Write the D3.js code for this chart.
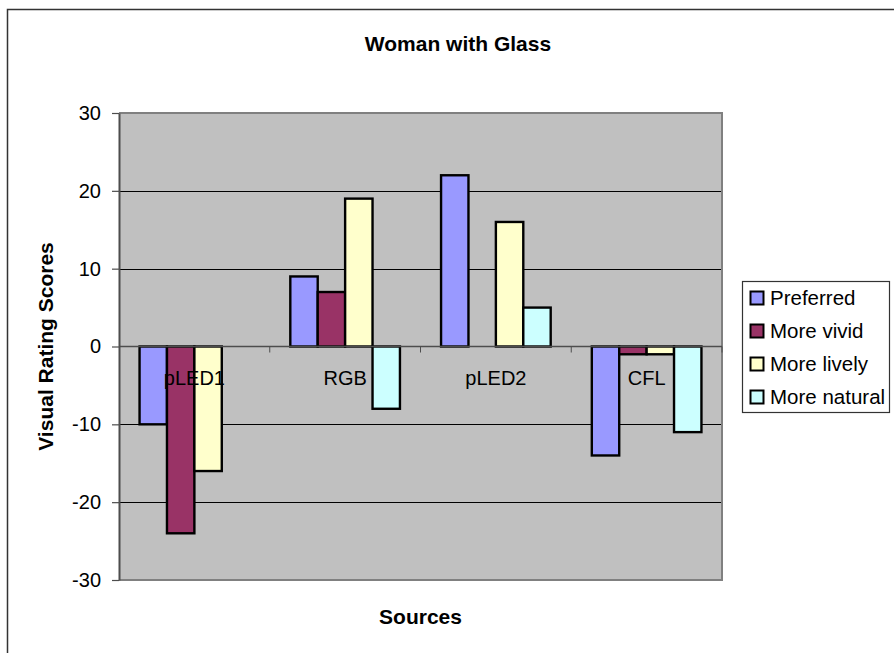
<!DOCTYPE html>
<html>
<head>
<meta charset="utf-8">
<script src="https://cdn.jsdelivr.net/npm/d3@7"></script>
<style>
  html, body { margin: 0; padding: 0; background: #ffffff; }
  svg { display: block; font-family: "Liberation Sans", Arial, sans-serif; }
</style>
</head>
<body>
<svg id="chart" width="894" height="653"></svg>
<script>
// Visual rating scores per light source
const categories = ["pLED1", "RGB", "pLED2", "CFL"];
const seriesNames = ["Preferred", "More vivid", "More lively", "More natural"];
const preferred   = [-10, 9, 22, -14];
const moreVivid   = [-24, 7, null, -1];
const moreLively  = [-16, 19, 16, -1];
const moreNatural = [null, -8, 5, -11];
const seriesColors = ["#9999FF", "#993366", "#FFFFCC", "#CCFFFF"];
const yTicks = [-30, -20, -10, 0, 10, 20, 30];

const seriesValues = [preferred, moreVivid, moreLively, moreNatural];

const svg = d3.select("#chart");

// chart frame
svg.append("rect")
  .attr("x", 7.5).attr("y", 9.5)
  .attr("width", 930).attr("height", 700)
  .attr("fill", "#ffffff")
  .attr("stroke", "#333333").attr("stroke-width", 1.5);

const plot = { left: 119, right: 722, top: 113, bottom: 580 };

const y = d3.scaleLinear().domain([-30, 30]).range([plot.bottom, plot.top]);
const x = d3.scaleBand().domain(categories).range([plot.left, plot.right]).padding(0);
const barW = x.bandwidth() / 5.5;
const xs = d3.scaleBand().domain(seriesNames)
  .range([(x.bandwidth() - 4 * barW) / 2, (x.bandwidth() + 4 * barW) / 2]).padding(0);

// plot area
svg.append("rect")
  .attr("x", plot.left).attr("y", plot.top)
  .attr("width", plot.right - plot.left).attr("height", plot.bottom - plot.top)
  .attr("fill", "#C0C0C0");

// gridlines
svg.append("g")
  .selectAll("line")
  .data(yTicks.filter(t => t !== 0 && t !== 30 && t !== -30))
  .join("line")
  .attr("x1", plot.left).attr("x2", plot.right)
  .attr("y1", d => Math.round(y(d)) + 0.5).attr("y2", d => Math.round(y(d)) + 0.5)
  .attr("stroke", "#000000").attr("stroke-width", 1);

// plot border
svg.append("path")
  .attr("d", `M${plot.left},${plot.top}H${plot.right}V${plot.bottom}H${plot.left}`)
  .attr("fill", "none").attr("stroke", "#808080").attr("stroke-width", 2);

// y axis
const yAxis = d3.axisLeft(y).tickValues(yTicks).tickFormat(d => String(d))
  .tickSize(7).tickPadding(11).tickSizeOuter(0);
const gy = svg.append("g").attr("transform", `translate(${plot.left},0)`).call(yAxis);
gy.select(".domain").attr("stroke", "#4d4d4d").attr("stroke-width", 2);
gy.selectAll(".tick line").attr("stroke", "#4d4d4d").attr("stroke-width", 1.2);
gy.selectAll(".tick text")
  .attr("font-size", 20).attr("fill", "#000000")
  .attr("font-family", "Liberation Sans, Arial, sans-serif");

// bars
const groups = svg.append("g")
  .selectAll("g")
  .data(categories)
  .join("g")
  .attr("transform", d => `translate(${x(d)},0)`);

groups.selectAll("rect")
  .data((c, ci) => seriesNames.map((s, si) => ({ s, si, v: seriesValues[si][ci] })).filter(d => d.v !== null))
  .join("rect")
  .attr("x", d => xs(d.s))
  .attr("width", xs.bandwidth())
  .attr("y", d => y(Math.max(0, d.v)))
  .attr("height", d => Math.abs(y(d.v) - y(0)))
  .attr("fill", d => seriesColors[d.si])
  .attr("stroke", "#000000").attr("stroke-width", 2.4);

// category axis at zero
svg.append("line")
  .attr("x1", plot.left).attr("x2", plot.right)
  .attr("y1", y(0)).attr("y2", y(0))
  .attr("stroke", "#4d4d4d").attr("stroke-width", 1.5);

svg.append("g")
  .selectAll("line")
  .data(categories.slice(1).concat(["end"]))
  .join("line")
  .attr("x1", (d, i) => plot.left + x.bandwidth() * (i + 1))
  .attr("x2", (d, i) => plot.left + x.bandwidth() * (i + 1))
  .attr("y1", y(0)).attr("y2", y(0) + 6)
  .attr("stroke", "#4d4d4d").attr("stroke-width", 1);

// category labels
svg.append("g")
  .selectAll("text")
  .data(categories)
  .join("text")
  .attr("x", d => x(d) + x.bandwidth() / 2)
  .attr("y", y(0) + 38)
  .attr("text-anchor", "middle")
  .attr("font-size", 20)
  .attr("fill", "#000000")
  .text(d => d);

// titles
svg.append("text")
  .attr("x", 458).attr("y", 51)
  .attr("text-anchor", "middle")
  .attr("font-size", 21).attr("font-weight", "bold")
  .text("Woman with Glass");

svg.append("text")
  .attr("x", (plot.left + plot.right) / 2).attr("y", 624)
  .attr("text-anchor", "middle")
  .attr("font-size", 21).attr("font-weight", "bold")
  .text("Sources");

svg.append("text")
  .attr("transform", `translate(53,${(plot.top + plot.bottom) / 2}) rotate(-90)`)
  .attr("text-anchor", "middle")
  .attr("font-size", 21).attr("font-weight", "bold")
  .text("Visual Rating Scores");

// legend
const legend = svg.append("g").attr("transform", "translate(742.5,281.5)");
legend.append("rect")
  .attr("width", 147).attr("height", 131)
  .attr("fill", "#ffffff").attr("stroke", "#333333").attr("stroke-width", 1.2);

const items = legend.selectAll("g.item")
  .data(seriesNames)
  .join("g")
  .attr("class", "item")
  .attr("transform", (d, i) => `translate(0,${16 + i * 33})`);

items.append("rect")
  .attr("x", 8).attr("y", -6)
  .attr("width", 13).attr("height", 13)
  .attr("fill", (d, i) => seriesColors[i])
  .attr("stroke", "#000000").attr("stroke-width", 2);

items.append("text")
  .attr("x", 27.5).attr("y", 7)
  .attr("font-size", 20.5)
  .attr("fill", "#000000")
  .text(d => d);
</script>
</body>
</html>
